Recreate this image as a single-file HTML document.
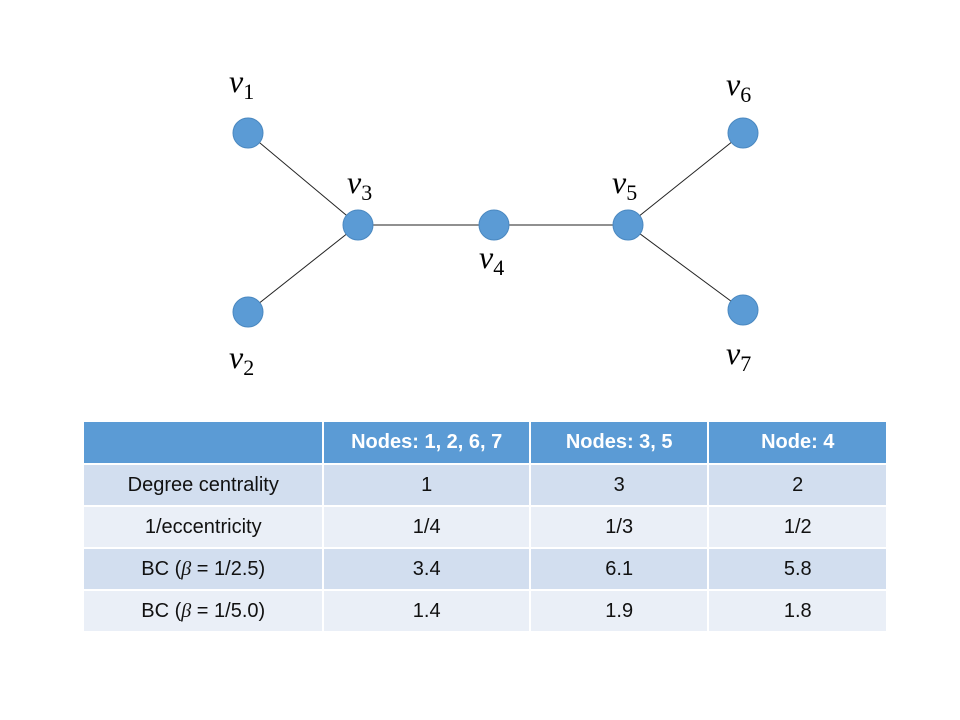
<!DOCTYPE html>
<html><head><meta charset="utf-8"><style>
body{margin:0;width:960px;height:720px;background:#fff;position:relative;overflow:hidden;font-family:"Liberation Sans",sans-serif}
svg{position:absolute;left:0;top:0}
table{position:absolute;left:82px;top:420px;border-collapse:collapse;width:806px}
td{border:2px solid #fff;text-align:center;font-size:20px;color:#111;padding:0;height:40px}
tr.h td{background:#5b9bd5;color:#fff;font-weight:bold;height:41px}
tr.a td{background:#d2deef}
tr.b td{background:#eaeff7}
i{font-family:"Liberation Serif",serif}
</style></head><body>
<svg width="960" height="400">
<g stroke="#222" stroke-width="1">
<line x1="248" y1="133" x2="358" y2="225"/>
<line x1="248" y1="312" x2="358" y2="225"/>
<line x1="358" y1="225" x2="494" y2="225"/>
<line x1="494" y1="225" x2="628" y2="225"/>
<line x1="628" y1="225" x2="743" y2="133"/>
<line x1="628" y1="225" x2="743" y2="310"/>
</g>
<g fill="#5b9bd5" stroke="#4a88c0" stroke-width="1">
<circle cx="248" cy="133" r="15"/>
<circle cx="248" cy="312" r="15"/>
<circle cx="358" cy="225" r="15"/>
<circle cx="494" cy="225" r="15"/>
<circle cx="628" cy="225" r="15"/>
<circle cx="743" cy="133" r="15"/>
<circle cx="743" cy="310" r="15"/>
</g>
<g font-family="Liberation Serif,serif" fill="#000" font-size="32" font-style="italic">
<text x="229" y="92">v<tspan font-size="22" font-style="normal" dy="7">1</tspan></text>
<text x="229" y="368">v<tspan font-size="22" font-style="normal" dy="7">2</tspan></text>
<text x="347" y="193">v<tspan font-size="22" font-style="normal" dy="7">3</tspan></text>
<text x="479" y="268">v<tspan font-size="22" font-style="normal" dy="7">4</tspan></text>
<text x="612" y="193">v<tspan font-size="22" font-style="normal" dy="7">5</tspan></text>
<text x="726" y="95">v<tspan font-size="22" font-style="normal" dy="7">6</tspan></text>
<text x="726" y="364">v<tspan font-size="22" font-style="normal" dy="7">7</tspan></text>
</g>
</svg>
<table>
<colgroup><col style="width:241px"><col style="width:207px"><col style="width:179px"><col style="width:179px"></colgroup>
<tr class="h"><td></td><td>Nodes: 1, 2, 6, 7</td><td>Nodes: 3, 5</td><td>Node: 4</td></tr>
<tr class="a"><td>Degree centrality</td><td>1</td><td>3</td><td>2</td></tr>
<tr class="b"><td>1/eccentricity</td><td>1/4</td><td>1/3</td><td>1/2</td></tr>
<tr class="a"><td>BC (<i>β</i> = 1/2.5)</td><td>3.4</td><td>6.1</td><td>5.8</td></tr>
<tr class="b"><td>BC (<i>β</i> = 1/5.0)</td><td>1.4</td><td>1.9</td><td>1.8</td></tr>
</table>
</body></html>
